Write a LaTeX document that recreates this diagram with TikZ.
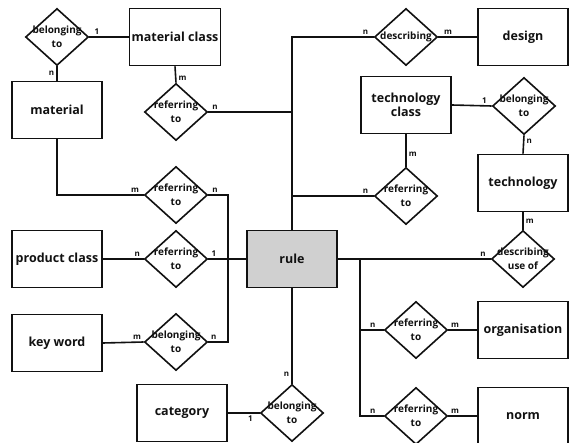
\documentclass[tikz,border=0pt]{standalone}
\usepackage{fontspec}
\setmainfont{Open Sans}
\usepackage{tikz}
\usetikzlibrary{shapes.geometric}
\definecolor{erInk}{HTML}{111111}
\definecolor{erRuleFill}{HTML}{D0D0D0}
\tikzset{
  erEntity/.style={draw=erInk,fill=white,text=erInk,align=center,
    minimum width=90pt,minimum height=57pt,inner sep=2pt,
    font=\fontsize{12.5}{14.5}\selectfont\bfseries},
  erCentral/.style={erEntity,fill=erRuleFill},
  erRelation/.style={draw=erInk,fill=white,text=erInk,diamond,aspect=1.1,
    align=center,inner sep=-9pt,minimum width=63pt,minimum height=57pt,
    font=\fontsize{10}{14}\selectfont\bfseries},
  erEdge/.style={draw=erInk}
}

\begin{document}
\begin{tikzpicture}[x=1pt,y=-1pt,line width=1.6pt,
  card/.style={inner sep=2pt,text=erInk,font=\fontsize{8}{9}\selectfont\bfseries}]
\useasboundingbox (0,0) rectangle (570,443);
% entities
\node[erEntity] (matClass) at (175,37) {material class};
\node[erEntity] (material) at (57,110) {material};
\node[erEntity] (prodClass) at (57,259) {product class};
\node[erEntity] (keyWord) at (57,343) {key word};
\node[erEntity] (category) at (182,413) {category};
\node[erCentral] (rule) at (292,259) {rule};
\node[erEntity] (design) at (523,37) {design};
\node[erEntity] (techClass) at (406,105) {technology\\class};
\node[erEntity] (technology) at (523,183) {technology};
\node[erEntity] (organisation) at (523,330) {organisation};
\node[erEntity] (norm) at (523,416) {norm};
% relationships
\node[erRelation] (belMat) at (57,37) {belonging\\to};
\node[erRelation] (refMatClass) at (176,112) {referring\\to};
\node[erRelation] (refMat) at (176,195) {referring\\to};
\node[erRelation] (refProd) at (176,259) {referring\\to};
\node[erRelation] (belKey) at (176,342) {belonging\\to};
\node[erRelation] (belCat) at (292,413) {belonging\\to};
\node[erRelation] (descr) at (406,37) {describing};
\node[erRelation] (belTech) at (524,106) {belonging\\to};
\node[erRelation] (refTech) at (406,196) {referring\\to};
\node[erRelation] (descUse) at (523,259) {describing\\use of};
\node[erRelation] (refOrg) at (416,330) {referring\\to};
\node[erRelation] (refNorm) at (416,416) {referring\\to};
% bends
\coordinate (jL) at (228,270);
\coordinate (jR) at (360,259);
% left part
\draw[erEdge] (belMat.east) -- node[card,pos=0.19,above]{1} (matClass.west);
\draw[erEdge] (belMat.south) -- node[card,pos=0.5,left]{n} (material.north);
\draw[erEdge] (matClass.south) -- node[card,pos=0.7,right]{m} (refMatClass.north);
\draw[erEdge] (refMatClass.east) -- node[card,pos=0.08,above]{n} (refMatClass.east -| rule.north);
\draw[erEdge] (material.south) |- node[card,pos=0.95,above]{m} (refMat.west);
\draw[erEdge] (refMat.east) -| node[card,pos=0.17,above]{n} (jL);
\draw[erEdge] (jL) |- node[card,pos=0.86,above]{n} (belKey.east);
\draw[erEdge] (prodClass.east) -- node[card,pos=0.84,above]{n} (refProd.west);
\draw[erEdge] (refProd.east) -- node[card,pos=0.15,above]{1} (rule.west);
\draw[erEdge] (keyWord.east) -- node[card,pos=0.84,above]{m} (belKey.west);
\draw[erEdge] (rule.south) -- node[card,pos=0.9,left]{n} (belCat.north);
\draw[erEdge] (category.east) -- node[card,pos=0.71,below]{1} (belCat.west);
% right part
\draw[erEdge] (rule.north) |- node[card,pos=0.95,above]{n} (descr.west);
\draw[erEdge] (descr.east) -- node[card,pos=0.25,above]{m} (design.west);
\draw[erEdge] (techClass.east) -- node[card,pos=0.82,above]{1} (belTech.west);
\draw[erEdge] (belTech.south) -- node[card,pos=0.3,right]{n} (technology.north);
\draw[erEdge] (techClass.south) -- node[card,pos=0.63,right]{m} (refTech.north);
\draw[erEdge] (refTech.west) -- node[card,pos=0.1,above]{n} (refTech.west -| rule.north);
\draw[erEdge] (technology.south) -- node[card,pos=0.5,right]{m} (descUse.north);
\draw[erEdge] (rule.east) -- node[card,pos=0.95,above]{n} (descUse.west);
\draw[erEdge] (jR) |- node[card,pos=0.77,above]{n} (refOrg.west);
\draw[erEdge] (jR) |- node[card,pos=0.77,above]{n} (refNorm.west);
\draw[erEdge] (refOrg.east) -- node[card,pos=0.23,above]{m} (organisation.west);
\draw[erEdge] (refNorm.east) -- node[card,pos=0.23,above]{m} (norm.west);
\end{tikzpicture}
\end{document}
